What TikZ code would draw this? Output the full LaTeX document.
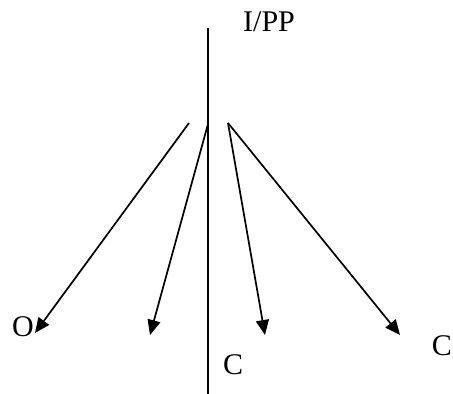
\documentclass[tikz,border=0pt]{standalone}
\usepackage{fontspec}
\setmainfont{Liberation Serif}
\usetikzlibrary{arrows.meta}
\begin{document}
\begin{tikzpicture}[x=1pt,y=-1pt,
  lbl/.style={inner sep=0pt,font=\fontsize{30}{34}\selectfont},
  arr/.style={line width=1.7pt,-{Triangle[length=15pt,width=13pt]}},
  axis/.style={line width=1.7pt}]
\useasboundingbox (0,0) rectangle (453,394);
\coordinate (top) at (208,28);
\coordinate (bot) at (208,394);
\draw[axis] (top) -- (bot);
\node[lbl,anchor=west] (ipp) at (243,22) {I/PP};
\node[lbl,anchor=west] (o) at (12,327) {O};
\node[lbl,anchor=west] (c1) at (223,365) {C};
\node[lbl,anchor=east] (c2) at (452,346) {C};
\coordinate (s1) at (189,123);
\coordinate (s2) at (208,124);
\coordinate (s3) at (228,123);
\coordinate (t1) at (35,333);
\coordinate (t2) at (150,335);
\coordinate (t3) at (265,335);
\coordinate (t4) at (400,335);
\draw[arr] (s1) -- (t1);
\draw[arr] (s2) -- (t2);
\draw[arr] (s3) -- (t3);
\draw[arr] (s3) -- (t4);
\end{tikzpicture}
\end{document}
